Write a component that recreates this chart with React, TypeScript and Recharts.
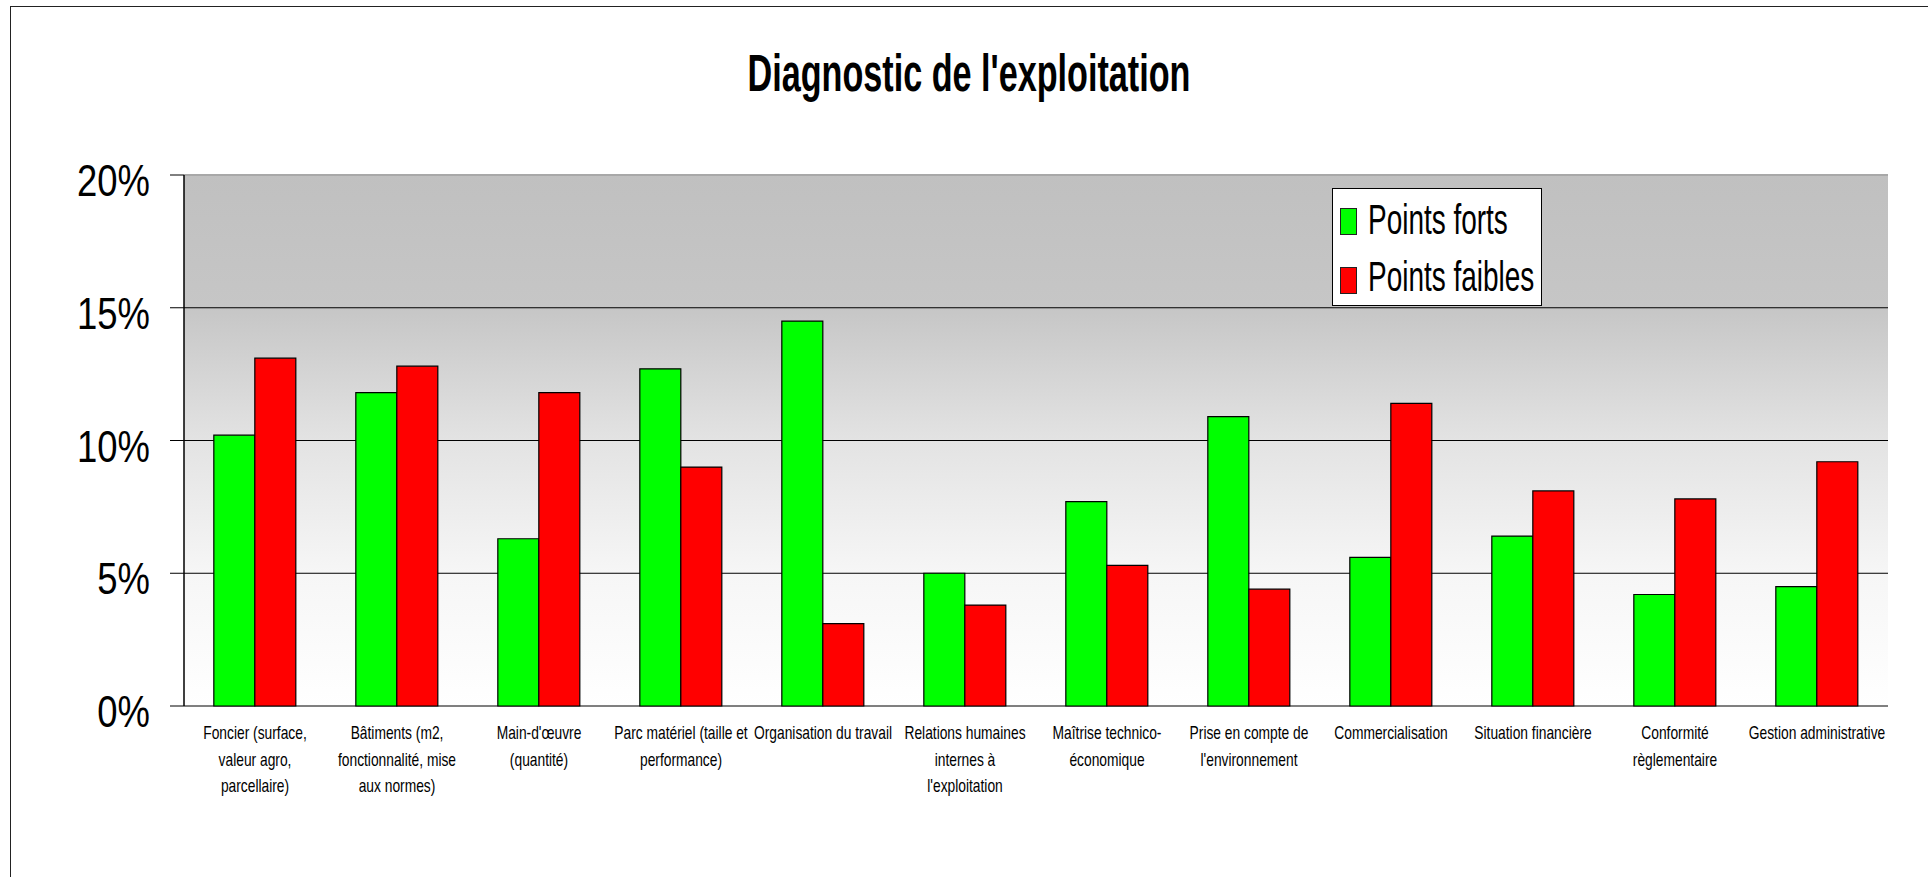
import React from 'react';
import {
  BarChart,
  Bar,
  XAxis,
  YAxis,
  CartesianGrid,
  Legend,
  ReferenceLine,
} from 'recharts';

const categories = [
  'Foncier (surface,\nvaleur agro,\nparcellaire)',
  'Bâtiments (m2,\nfonctionnalité, mise\naux normes)',
  "Main-d'œuvre\n(quantité)",
  'Parc matériel (taille et\nperformance)',
  'Organisation du travail',
  "Relations humaines\ninternes à\nl'exploitation",
  'Maîtrise technico-\néconomique',
  "Prise en compte de\nl'environnement",
  'Commercialisation',
  'Situation financière',
  'Conformité\nrèglementaire',
  'Gestion administrative',
];

const pointsForts = [10.2, 11.8, 6.3, 12.7, 14.5, 5.0, 7.7, 10.9, 5.6, 6.4, 4.2, 4.5];
const pointsFaibles = [13.1, 12.8, 11.8, 9.0, 3.1, 3.8, 5.3, 4.4, 11.4, 8.1, 7.8, 9.2];

const yTicks = [0, 5, 10, 15, 20];

const series = [
  { key: 'forts', name: 'Points forts', color: '#00ff00' },
  { key: 'faibles', name: 'Points faibles', color: '#ff0000' },
];

const data = categories.map((c, i) => ({
  name: c,
  idx: i,
  forts: pointsForts[i],
  faibles: pointsFaibles[i],
}));

const boundaryTicks = categories.map((_, i) => i).concat(categories.length);

const FONT = "'Liberation Sans', Arial, sans-serif";

const YTick = (props: any) => {
  const { x, y, payload } = props;
  return (
    <g transform={`translate(${x},${y}) scale(0.81,1)`}>
      <text x={0} y={21} textAnchor="end" fontSize={45} fontFamily={FONT} fill="#000">
        {`${payload.value}%`}
      </text>
    </g>
  );
};

const XTick = (props: any) => {
  const { x, y, payload } = props;
  const lines = String(payload.value).split('\n');
  return (
    <g transform={`translate(${x},${y}) scale(0.78,1)`}>
      <text textAnchor="middle" fontSize={17.7} fontFamily={FONT} fill="#000">
        {lines.map((l, i) => (
          <tspan key={i} x={0} y={33 + i * 26.7}>
            {l}
          </tspan>
        ))}
      </text>
    </g>
  );
};

const LegendBox = () => (
  <div
    style={{
      position: 'relative',
      width: 210,
      height: 118,
      boxSizing: 'border-box',
      border: '1px solid #000',
      background: '#fff',
      fontFamily: FONT,
    }}
  >
    {series.map((s, i) => (
      <React.Fragment key={s.key}>
        <span
          style={{
            position: 'absolute',
            left: 7,
            top: 19 + i * 58.5,
            width: 17,
            height: 27,
            background: s.color,
            border: '1px solid #222',
            boxSizing: 'border-box',
          }}
        />
        <span
          style={{
            position: 'absolute',
            left: 35,
            top: 9 + i * 57,
            fontSize: 43,
            lineHeight: 1,
            color: '#000',
            whiteSpace: 'nowrap',
            transform: 'scaleX(0.65)',
            transformOrigin: 'left center',
          }}
        >
          {s.name}
        </span>
      </React.Fragment>
    ))}
  </div>
);

export default function App() {
  return (
    <div
      style={{
        position: 'absolute',
        left: 0,
        top: 0,
        width: 1928,
        height: 877,
        background: '#fff',
        overflow: 'hidden',
      }}
    >
      <div
        style={{
          position: 'absolute',
          left: 10,
          top: 6,
          width: 2000,
          height: 1000,
          borderLeft: '1.5px solid #222',
          borderTop: '1.5px solid #222',
        }}
      />
      <div
        style={{
          position: 'absolute',
          left: 469,
          width: 1000,
          top: 48,
          textAlign: 'center',
          fontFamily: FONT,
          fontWeight: 'bold',
          fontSize: 51,
          lineHeight: 1,
          color: '#000',
          whiteSpace: 'nowrap',
          transform: 'scaleX(0.67)',
          transformOrigin: 'center',
        }}
      >
        Diagnostic de l'exploitation
      </div>
      <div style={{ position: 'absolute', left: 0, top: 0 }}>
        <BarChart
          width={1928}
          height={877}
          data={data}
          margin={{ top: 175, right: 40, bottom: 51, left: 84 }}
          barCategoryGap="21%"
          barGap={0}
        >
          <defs>
            <linearGradient id="plotBg" x1="0" y1="0" x2="0" y2="1">
              <stop offset="0" stopColor="#c0c0c0" />
              <stop offset="0.25" stopColor="#c6c6c6" />
              <stop offset="0.5" stopColor="#e3e3e3" />
              <stop offset="0.75" stopColor="#f6f6f6" />
              <stop offset="1" stopColor="#ffffff" />
            </linearGradient>
          </defs>
          <CartesianGrid vertical={false} stroke="#000" strokeWidth={1} fill="url(#plotBg)" fillOpacity={1} />
          <XAxis
            xAxisId="b"
            type="number"
            dataKey="idx"
            domain={[0, categories.length]}
            ticks={boundaryTicks}
            tick={false}
            tickSize={8}
            height={0}
            axisLine={{ stroke: '#000', strokeWidth: 1.5 }}
            tickLine={{ stroke: '#000' }}
            allowDataOverflow
          />
          <XAxis
            dataKey="name"
            interval={0}
            height={120}
            tickSize={0}
            tickMargin={0}
            axisLine={false}
            tickLine={false}
            tick={<XTick />}
          />
          <YAxis
            domain={[0, 20]}
            ticks={yTicks}
            width={100}
            tickSize={14}
            tickMargin={20}
            axisLine={{ stroke: '#000', strokeWidth: 1.5 }}
            tickLine={{ stroke: '#000' }}
            tick={<YTick />}
          />
          <YAxis
            yAxisId="r"
            orientation="right"
            domain={[0, 20]}
            width={0}
            tick={false}
            tickLine={false}
            axisLine={{ stroke: '#a8a8a8', strokeWidth: 1.5 }}
          />
          <ReferenceLine y={20} stroke="#a8a8a8" strokeWidth={2} />
          <Legend
            layout="vertical"
            align="center"
            verticalAlign="middle"
            wrapperStyle={{ left: 1332, top: 188, width: 210 }}
            content={<LegendBox />}
          />
          {series.map((s) => (
            <Bar
              key={s.key}
              dataKey={s.key}
              name={s.name}
              fill={s.color}
              stroke="#000"
              strokeWidth={1.2}
              isAnimationActive={false}
            />
          ))}
        </BarChart>
      </div>
    </div>
  );
}
